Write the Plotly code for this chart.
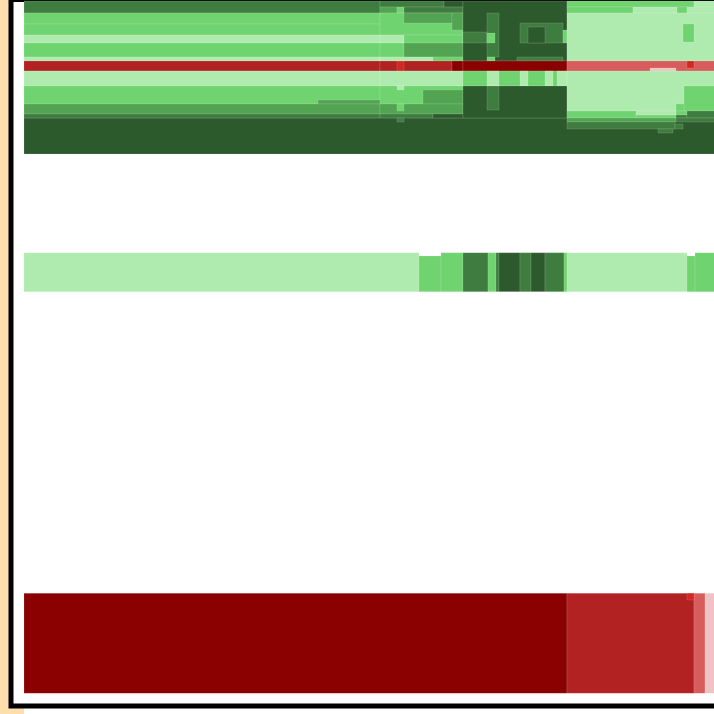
import plotly.graph_objects as go

# colour states
state_colors = {
    "D": "#2d5a2d", "M": "#3f7c3f", "G2": "#52a352", "L": "#6fd36f", "P": "#afebaf",
    "R1": "#8b0000", "R2": "#b22222", "R3": "#d3281f", "R4": "#d95c5c", "R5": "#efc3c3",
}

# ---- band 1 (top, many lanes) ----
b1_start = [24,
            24, 24, 24, 24, 24, 24, 24, 24, 24, 318, 24, 24,
            380, 444, 380, 397, 404, 380, 404, 452, 380, 404, 380, 404, 380, 433, 380, 397, 452,
            380, 380, 423, 397, 380, 397, 380, 433, 397,
            463, 463, 487, 487, 487, 520, 528, 517, 563, 463, 463, 487, 520, 545, 557, 463, 487,
            567, 694, 567, 633, 677, 687, 567, 683, 567, 687, 650, 567, 684, 676, 567, 636, 636,
            676, 676, 687, 567, 676, 567, 675, 658]
b1_end = [744,
          380, 380, 380, 380, 380, 380, 380, 380, 380, 380, 380, 380,
          444, 463, 397, 404, 463, 463, 452, 463, 404, 463, 404, 463, 433, 463, 452, 404, 463,
          463, 463, 463, 404, 463, 404, 433, 463, 404,
          567, 487, 499, 495, 495, 563, 545, 563, 567, 567, 567, 499, 528, 553, 567, 567, 499,
          694, 744, 633, 677, 687, 744, 744, 694, 744, 694, 676, 744, 744, 684, 636, 676, 676,
          687, 687, 744, 676, 744, 675, 683, 673]
b1_top = [118,
          1, 13, 24, 35, 43, 57, 61, 71, 86, 100, 104, 114,
          1, 1, 7, 7, 7, 13, 13, 13, 35, 35, 43, 43, 57, 57, 61, 61, 61,
          71, 86, 90, 86, 104, 104, 114, 114, 118,
          1, 32, 13, 33, 57, 23, 27, 57, 30, 61, 71, 71, 71, 71, 71, 86, 86,
          1, 1, 7, 7, 7, 7, 13, 24, 61, 61, 68, 71, 86, 104, 111, 115, 111,
          111, 115, 111, 118, 118, 122, 124, 129]
b1_bottom = [154,
             13, 24, 35, 43, 57, 61, 71, 86, 104, 104, 114, 118,
             7, 7, 13, 13, 13, 35, 23, 30, 43, 43, 57, 57, 61, 61, 71, 71, 71,
             86, 104, 104, 90, 114, 111, 118, 118, 122,
             61, 43, 57, 43, 61, 43, 43, 61, 43, 71, 86, 86, 86, 86, 86, 118, 110,
             7, 7, 13, 13, 13, 13, 61, 42, 71, 68, 71, 111, 111, 111, 118, 118, 115,
             115, 118, 118, 122, 122, 129, 129, 133]
b1_state = ["D",
            "M", "L", "L", "P", "L", "P", "R2", "P", "L", "G2", "G2", "M",
            "M", "D", "G2", "L", "M", "L", "G2", "G2", "P", "L", "L", "G2", "P", "L", "R2", "R3", "R1",
            "P", "L", "G2", "P", "G2", "L", "M", "D", "M",
            "D", "M", "M", "L", "L", "M", "D", "M", "L", "R1", "L", "P", "P", "P", "P", "D", "M",
            "L", "P", "L", "P", "L", "P", "P", "L", "R4", "R3", "R5", "P", "L", "L", "L", "L", "P",
            "L", "M", "M", "G2", "M", "M", "M", "M"]

# ---- band 2 (middle lane) ----
b2_start = [24, 419, 441, 463, 488, 496, 499, 520, 531, 545, 564, 567, 687, 695]
b2_end = [419, 441, 463, 488, 496, 499, 520, 531, 545, 564, 567, 687, 695, 744]
b2_top = [252.7, 256, 252.7, 252.7, 252.7, 252.7, 252.7, 252.7, 252.7, 252.7, 252.7, 252.7, 256, 252.7]
b2_bottom = [291.7] * 14
b2_state = ["P", "L", "L", "M", "L", "M", "D", "M", "D", "M", "L", "P", "L", "L"]

# ---- band 3 (bottom lane) ----
b3_start = [24, 567, 694, 705, 687]
b3_end = [567, 694, 705, 744, 694]
b3_top = [593.3, 593.3, 593.3, 593.3, 593.3]
b3_bottom = [693.3, 693.3, 693.3, 693.3, 600]
b3_state = ["R1", "R2", "R4", "R5", "R3"]

W, H = 714, 714
ML = 24

fig = go.Figure()
for s0, s1, t0, t1, st in [
    (b1_start, b1_end, b1_top, b1_bottom, b1_state),
    (b2_start, b2_end, b2_top, b2_bottom, b2_state),
    (b3_start, b3_end, b3_top, b3_bottom, b3_state),
]:
    fig.add_trace(go.Bar(
        orientation="h",
        base=s0,
        x=[b - a for a, b in zip(s0, s1)],
        y=[(a + b) / 2 for a, b in zip(t0, t1)],
        width=[b - a for a, b in zip(t0, t1)],
        marker=dict(color=[state_colors[k] for k in st],
                    line=dict(color="rgba(255,255,255,0.13)", width=1)),
        hoverinfo="skip", showlegend=False,
    ))

pw = W - ML
def px_x(p):
    return (p - ML) / pw
def px_y(p):
    return 1 - p / H

# page frame (decoration)
fig.add_shape(type="rect", xref="paper", yref="paper",
              x0=px_x(11), x1=px_x(900), y0=px_y(706), y1=px_y(-0.5),
              fillcolor="white", line=dict(color="black", width=5), layer="below")

fig.update_layout(
    width=W, height=H,
    margin=dict(l=ML, r=0, t=0, b=0, pad=0),
    paper_bgcolor="#FFDEAD", plot_bgcolor="white",
    barmode="overlay",
    xaxis=dict(range=[ML, W], visible=False, fixedrange=True),
    yaxis=dict(range=[H, 0], visible=False, fixedrange=True),
)
fig.write_html(
    "out.html",
    config={"displayModeBar": False, "staticPlot": True},
    post_script="document.body.style.margin='0';document.body.style.overflow='hidden';"
                "document.body.style.background='#FFDEAD';",
)
